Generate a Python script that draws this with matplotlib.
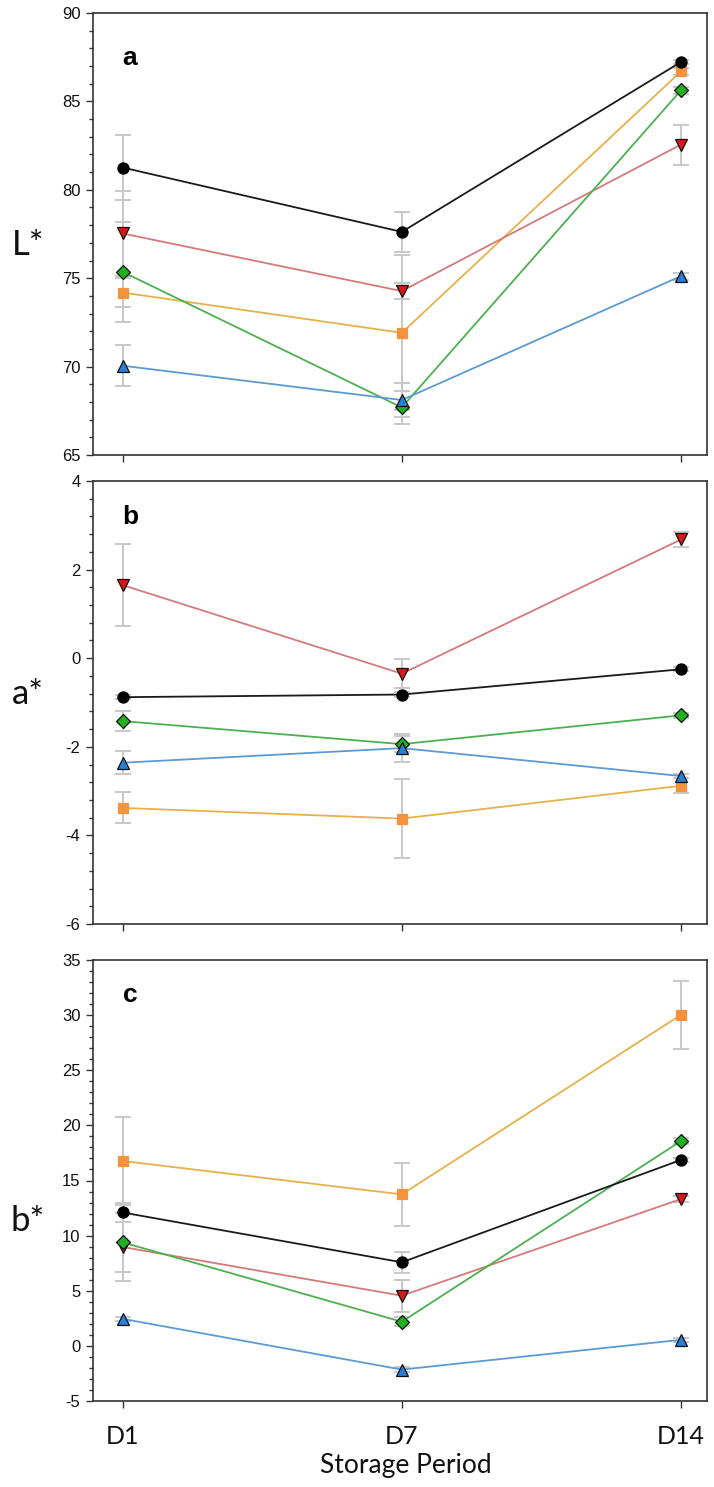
import matplotlib
matplotlib.use("Agg")
import matplotlib.pyplot as plt
from matplotlib.ticker import MultipleLocator

plt.rcParams["axes.unicode_minus"] = False

# ---------------- data ----------------
days = ["D1", "D7", "D14"]

# L*
L_black = [81.26, 77.62, 87.23]
L_black_err = [1.84, 1.13, 0.10]
L_red = [77.53, 74.27, 82.56]
L_red_err = [2.40, 0.47, 1.13]
L_orange = [74.19, 71.91, 86.70]
L_orange_err = [0.82, 4.39, 0.20]
L_green = [75.36, 67.69, 85.63]
L_green_err = [2.83, 0.94, 0.20]
L_blue = [70.05, 68.11, 75.12]
L_blue_err = [1.15, 0.98, 0.20]

# a*
a_black = [-0.88, -0.82, -0.25]
a_black_err = [0.05, 0.05, 0.05]
a_red = [1.65, -0.35, 2.68]
a_red_err = [0.92, 0.33, 0.16]
a_orange = [-3.38, -3.62, -2.88]
a_orange_err = [0.35, 0.90, 0.17]
a_green = [-1.42, -1.94, -1.29]
a_green_err = [0.22, 0.18, 0.05]
a_blue = [-2.36, -2.03, -2.66]
a_blue_err = [0.26, 0.31, 0.05]

# b*
b_black = [12.10, 7.58, 16.87]
b_black_err = [0.87, 0.97, 0.20]
b_red = [8.97, 4.55, 13.32]
b_red_err = [3.07, 1.45, 0.30]
b_orange = [16.77, 13.74, 30.03]
b_orange_err = [4.03, 2.87, 3.10]
b_green = [9.39, 2.19, 18.58]
b_green_err = [2.68, 0.40, 0.30]
b_blue = [2.45, -2.15, 0.55]
b_blue_err = [0.20, 0.20, 0.20]

panel_letters = ["a", "b", "c"]
y_labels = ["L*", "a*", "b*"]

# ---------------- styles ----------------
styles = {
    "orange": dict(line="#e8b04a", face="#f5923e", edge="#f5923e", marker="s", ms=7.0),
    "red":    dict(line="#d47a7a", face="#d41a1a", edge="#111111", marker="v", ms=8.0),
    "green":  dict(line="#4cb050", face="#22b022", edge="#111111", marker="D", ms=7.2),
    "blue":   dict(line="#5a9bd4", face="#2a7fd4", edge="#111111", marker="^", ms=8.0),
    "black":  dict(line="#1a1a1a", face="#000000", edge="#000000", marker="o", ms=8.0),
}
order = ["orange", "red", "green", "blue", "black"]

panels = [
    dict(vals={"black": (L_black, L_black_err), "red": (L_red, L_red_err),
               "orange": (L_orange, L_orange_err), "green": (L_green, L_green_err),
               "blue": (L_blue, L_blue_err)},
         ylim=(65, 90), major=5, minor=1),
    dict(vals={"black": (a_black, a_black_err), "red": (a_red, a_red_err),
               "orange": (a_orange, a_orange_err), "green": (a_green, a_green_err),
               "blue": (a_blue, a_blue_err)},
         ylim=(-6, 4), major=2, minor=0.4),
    dict(vals={"black": (b_black, b_black_err), "red": (b_red, b_red_err),
               "orange": (b_orange, b_orange_err), "green": (b_green, b_green_err),
               "blue": (b_blue, b_blue_err)},
         ylim=(-5, 35), major=5, minor=1),
]

W, H = 714, 1487
fig = plt.figure(figsize=(W / 100, H / 100), dpi=100)

# axes boxes in pixels: (top, bottom)
boxes = [(13, 455), (481, 924), (960, 1401)]
left_px, right_px = 93, 707
letter_y = [58, 517, 995]
ylab_y = [245, 694, 1221]

x = list(range(len(days)))

for i, (p, (top, bot)) in enumerate(zip(panels, boxes)):
    ax = fig.add_axes([left_px / W, 1 - bot / H, (right_px - left_px) / W, (bot - top) / H])
    for name in order:
        v, e = p["vals"][name]
        ax.errorbar(x, v, yerr=e, fmt="none", ecolor="#c8c8c8", elinewidth=1.4,
                    capsize=5.5, capthick=1.4, zorder=1)
    for name in order:
        st = styles[name]
        v, e = p["vals"][name]
        ax.plot(x, v, color=st["line"], lw=1.3, zorder=2)
        ax.plot(x, v, linestyle="none", marker=st["marker"], ms=st["ms"],
                mfc=st["face"], mec=st["edge"], mew=0.9, zorder=3)
    ax.set_xlim(-0.106, 2.093)
    ax.set_ylim(*p["ylim"])
    ax.yaxis.set_major_locator(MultipleLocator(p["major"]))
    ax.yaxis.set_minor_locator(MultipleLocator(p["minor"]))
    ax.set_xticks(x)
    ax.tick_params(axis="y", which="major", direction="out", length=5, width=1.0,
                   labelsize=12, colors="#333333", labelcolor="#111111", pad=4)
    ax.tick_params(axis="y", which="minor", direction="out", length=3, width=1.0,
                   colors="#333333")
    ax.tick_params(axis="x", which="major", direction="out", length=5, width=1.0,
                   colors="#333333")
    for lab in ax.get_yticklabels():
        lab.set_fontfamily("Liberation Sans")
    for s in ax.spines.values():
        s.set_color("#333333")
        s.set_linewidth(1.2)
    if i < 2:
        ax.set_xticklabels([])
    else:
        ax.set_xticklabels(days, fontfamily="Lato", fontsize=18, color="#111111")
        ax.tick_params(axis="x", pad=26)
        for lab in ax.get_xticklabels():
            lab.set_verticalalignment("baseline")
    fig.text(130 / W, 1 - letter_y[i] / H, panel_letters[i], fontsize=19,
             fontweight="bold", fontfamily="Liberation Sans", ha="center", va="center")
    fig.text(28 / W, 1 - ylab_y[i] / H, y_labels[i], fontsize=25, fontfamily="Lato",
             ha="center", va="center", color="#111111")

fig.text(406 / W, 1 - 1473 / H, "Storage Period", fontsize=19, fontfamily="Lato",
         ha="center", va="baseline", color="#111111")

fig.savefig("out.png", dpi=100, facecolor="white")
